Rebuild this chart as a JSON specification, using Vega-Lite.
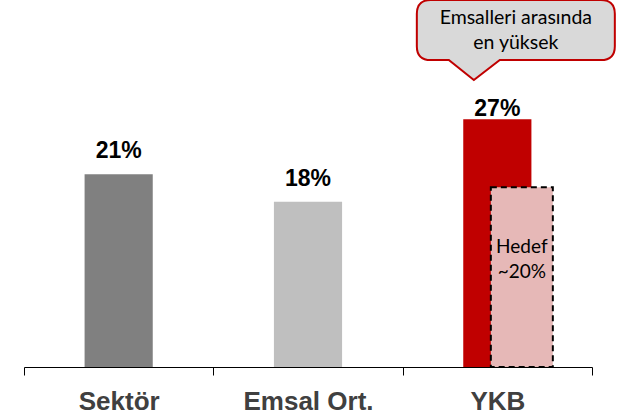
{
  "$schema": "https://vega.github.io/schema/vega-lite/v6.json",
  "width": 568,
  "height": 367,
  "autosize": "none",
  "padding": {"left": 24, "top": 0, "right": 33, "bottom": 49},
  "background": "white",
  "config": {"view": {"stroke": null}},
  "data": {
    "values": [
      {"cat": "Sektör", "value": 21, "label": "21%"},
      {"cat": "Emsal Ort.", "value": 18, "label": "18%"},
      {"cat": "YKB", "value": 27, "label": "27%", "target": 19.6, "targetLabel": "Hedef\n~20%", "note": "Emsalleri arasında\nen yüksek"}
    ]
  },
  "encoding": {
    "x": {
      "field": "cat",
      "type": "nominal",
      "sort": ["Sektör", "Emsal Ort.", "YKB"],
      "scale": {"paddingInner": 0, "paddingOuter": 0},
      "axis": {
        "title": null,
        "tickBand": "extent",
        "domainColor": "#000",
        "domainWidth": 1,
        "tickColor": "#000",
        "tickWidth": 1,
        "tickSize": 8,
        "labelFont": "Liberation Sans",
        "labelFontSize": 26,
        "labelFontWeight": "bold",
        "labelColor": "#404040",
        "labelPadding": 13,
        "labelAngle": 0
      }
    }
  },
  "layer": [
    {
      "mark": {"type": "bar", "width": {"band": 0.36}},
      "encoding": {
        "y": {"field": "value", "type": "quantitative", "scale": {"domain": [0, 40], "nice": false}, "axis": null},
        "color": {
          "field": "cat",
          "type": "nominal",
          "scale": {"domain": ["Sektör", "Emsal Ort.", "YKB"], "range": ["#808080", "#bfbfbf", "#c00000"]},
          "legend": null
        }
      }
    },
    {
      "transform": [{"filter": "isValid(datum.target)"}],
      "mark": {"type": "bar", "width": 62, "xOffset": 24.5, "fill": "#e6b8b7", "stroke": "#000", "strokeWidth": 2, "strokeDash": [6, 4]},
      "encoding": {
        "y": {"field": "target", "type": "quantitative"}
      }
    },
    {
      "transform": [{"filter": "datum.cat !== 'YKB'"}],
      "mark": {"type": "text", "baseline": "alphabetic", "dy": -16, "font": "Liberation Sans", "fontSize": 23, "fontWeight": "bold", "color": "#000"},
      "encoding": {
        "y": {"field": "value", "type": "quantitative"},
        "text": {"field": "label"}
      }
    },
    {
      "transform": [{"filter": "datum.cat === 'YKB'"}],
      "mark": {"type": "text", "baseline": "alphabetic", "dy": -3, "font": "Liberation Sans", "fontSize": 23, "fontWeight": "bold", "color": "#000"},
      "encoding": {
        "y": {"field": "value", "type": "quantitative"},
        "text": {"field": "label"}
      }
    },
    {
      "transform": [{"filter": "isValid(datum.target)"}],
      "mark": {"type": "text", "baseline": "alphabetic", "lineBreak": "\n", "lineHeight": 25, "xOffset": 24.5, "font": "Lato", "fontSize": 19, "color": "#000"},
      "encoding": {
        "y": {"datum": 12.4, "type": "quantitative"},
        "text": {"field": "targetLabel"}
      }
    },
    {
      "transform": [{"filter": "isValid(datum.note)"}],
      "mark": {
        "type": "point",
        "shape": "M -0.86 -0.404 L 0.86 -0.404 Q 1 -0.404 1 -0.264 L 1 0.062 Q 1 0.202 0.86 0.202 L -0.162 0.202 L -0.424 0.404 L -0.677 0.202 L -0.86 0.202 Q -1 0.202 -1 0.062 L -1 -0.264 Q -1 -0.404 -0.86 -0.404 Z",
        "size": 39204,
        "xOffset": 18.5,
        "filled": true,
        "fill": "#d9d9d9",
        "stroke": "#c00000",
        "strokeWidth": 2,
        "opacity": 1,
        "fillOpacity": 1,
        "strokeOpacity": 1
      },
      "encoding": {
        "y": {"datum": 35.64, "type": "quantitative"}
      }
    },
    {
      "transform": [{"filter": "isValid(datum.note)"}],
      "mark": {"type": "text", "baseline": "alphabetic", "lineBreak": "\n", "lineHeight": 25, "xOffset": 18.5, "font": "Lato", "fontSize": 19.5, "color": "#000"},
      "encoding": {
        "y": {"datum": 37.38, "type": "quantitative"},
        "text": {"field": "note"}
      }
    }
  ]
}
